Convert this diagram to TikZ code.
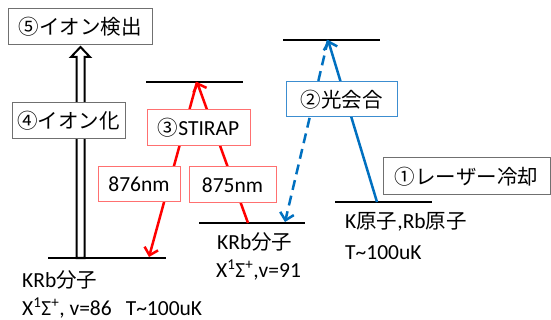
\documentclass[tikz,border=0pt]{standalone}
\usepackage{fontspec}
\setmainfont{Carlito}
\newfontfamily\jpfam{Noto Sans CJK JP}
\newcommand\jp{\jpfam\fontsize{20.5}{24}\selectfont}
\usetikzlibrary{arrows.meta}
\definecolor{myred}{HTML}{FF0000}
\definecolor{myblue}{HTML}{0070C0}
\definecolor{boxred}{HTML}{FF7070}
\definecolor{boxblue}{HTML}{3C8DD0}
\definecolor{boxgray}{HTML}{707070}
\begin{document}
\begin{tikzpicture}[x=1pt,y=-1pt,
  txt/.style={font=\fontsize{21.5}{24}\selectfont, inner sep=0pt, anchor=west},
  boxnode/.style={draw, fill=white, line width=1pt, inner sep=0pt, font=\fontsize{21.5}{24}\selectfont},
  level/.style={line width=2pt, black},
  redarrow/.style={myred, line width=2.5pt, -{Straight Barb[length=7pt,width=14pt]}},
  bluearrow/.style={myblue, line width=2.5pt, -{Straight Barb[length=7pt,width=14pt]}}]
\useasboundingbox (0,0) rectangle (551,320);
\fill[white] (0,0) rectangle (551,320);
% level endpoints
\coordinate (l0a) at (48,258);  \coordinate (l0b) at (166,258);
\coordinate (l1a) at (199,223); \coordinate (l1b) at (305,223);
\coordinate (l2a) at (146,82);  \coordinate (l2b) at (243,82);
\coordinate (l3a) at (283,40);  \coordinate (l3b) at (380,40);
\coordinate (l4a) at (335,202); \coordinate (l4b) at (432,202);
% arrow endpoints
\coordinate (redtop) at (197,82);
\coordinate (redlow) at (149,257);
\coordinate (redmid) at (248,223);
\coordinate (bluetop) at (328,40);
\coordinate (bluelow) at (377,202);
\coordinate (bluemid) at (285,222);
% levels
\draw[level] (l0a) -- (l0b);
\draw[level, line width=2.5pt] (l1a) -- (l1b);
\draw[level, line width=2.5pt] (l2a) -- (l2b);
\draw[level] (l3a) -- (l3b);
\draw[level, line width=1.3pt] (l4a) -- (l4b);
% transitions
\draw[redarrow] (redtop) -- (redlow);
\draw[redarrow] (redmid) -- (redtop);
\draw[bluearrow] (bluelow) -- (bluetop);
\draw[bluearrow, dash pattern=on 10pt off 6pt] (bluetop) -- (bluemid);
% hollow arrow
\draw[line width=2pt, fill=white, line join=miter]
  (76.5,258) -- (76.5,57) -- (71,57) -- (80.5,47) -- (90,57) -- (84.5,57) -- (84.5,258) -- cycle;
% boxes
\node[boxnode, draw=boxgray, minimum width=144pt, minimum height=36pt] (b5) at (80,27) {{\jp ⑤イオン検出}};
\node[boxnode, draw=boxgray, minimum width=113pt, minimum height=36pt] (b4) at (68.5,121) {{\jp ④イオン化}};
\node[boxnode, draw=boxred, minimum width=103pt, minimum height=36pt] (b3) at (198.5,128) {{\jp ③}STIRAP};
\node[boxnode, draw=boxred, minimum width=82pt, minimum height=35pt] (b876) at (139,184.5) {876nm};
\node[boxnode, draw=boxred, minimum width=87pt, minimum height=36pt] (b875) at (232.5,185) {875nm};
\node[boxnode, draw=boxblue, minimum width=111pt, minimum height=35pt] (b2) at (341.5,99.5) {{\jp ②光会合}};
\node[boxnode, draw=boxgray, minimum width=167pt, minimum height=37pt] (b1) at (466.5,176.5) {{\jp ①レーザー冷却}};
% state labels
\node[txt] (t0a) at (22,280) {KRb{\jp 分子}};
\node[txt] (t0b) at (22,308) {X\textsuperscript{1}Σ\textsuperscript{+}, v=86\hspace{14pt}T\textasciitilde 100uK};
\node[txt] (t1a) at (217,242) {KRb{\jp 分子}};
\node[txt] (t1b) at (216,270) {X\textsuperscript{1}Σ\textsuperscript{+},v=91};
\node[txt] (t4a) at (345,222) {K{\jp 原子},Rb{\jp 原子}};
\node[txt] (t4b) at (345,253) {T\textasciitilde 100uK};
\end{tikzpicture}
\end{document}
